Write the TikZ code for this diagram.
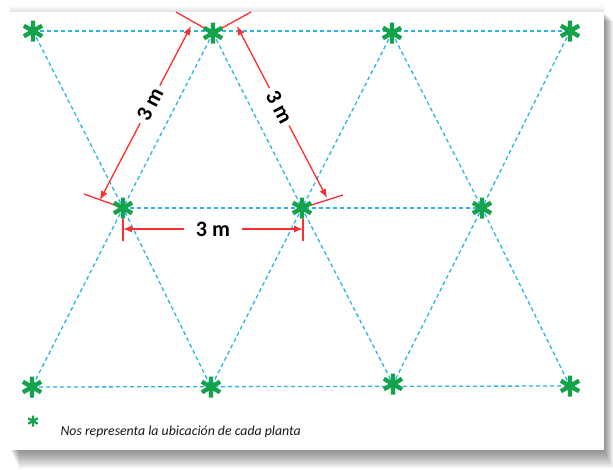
\documentclass[tikz,border=0pt]{standalone}
\usepackage{fontspec}
\setmainfont{Carlito}
\usetikzlibrary{arrows.meta,calc}
\definecolor{plantgreen}{HTML}{14A34A}
\definecolor{gridblue}{HTML}{2AB5EA}
\definecolor{dimred}{HTML}{FF2E2E}
\pgfdeclarelayer{frame}
\pgfdeclarelayer{lines}
\pgfsetlayers{frame,lines,main}
\tikzset{
  plantarm/.style={draw=plantgreen, line width=4.4pt},
  plant/.style={shape=rectangle, inner sep=0pt, minimum size=24pt,
    path picture={
      \draw[plantarm]
        (path picture bounding box.center) ++(90:10.5pt) -- ++(-90:21pt)
        (path picture bounding box.center) ++(30:10.5pt) -- ++(210:21pt)
        (path picture bounding box.center) ++(150:10.5pt) -- ++(-30:21pt);
    }},
  plantsmall/.style={shape=rectangle, inner sep=0pt, minimum size=12pt,
    path picture={
      \draw[draw=plantgreen, line width=2.2pt]
        (path picture bounding box.center) ++(90:5.5pt) -- ++(-90:11pt)
        (path picture bounding box.center) ++(30:5.5pt) -- ++(210:11pt)
        (path picture bounding box.center) ++(150:5.5pt) -- ++(-30:11pt);
    }},
  gridline/.style={draw=gridblue, line width=1.3pt, dash pattern=on 4pt off 3pt},
  dimline/.style={draw=dimred, line width=1.3pt},
  dimtip/.style={{Latex[length=9pt,width=7pt]}-{Latex[length=9pt,width=7pt]}},
  dimlabel/.style={fill=white, inner xsep=4pt, inner ysep=1pt,
    font=\fontsize{22}{24}\selectfont\bfseries, text=black},
  legendtext/.style={anchor=west, font=\fontsize{13.8}{15}\selectfont\itshape, text=black!90}
}
\begin{document}
\begin{tikzpicture}[x=1pt,y=-1pt]
\useasboundingbox (0,0) rectangle (613,469);
\begin{pgfonlayer}{frame}
  \fill[white] (0,0) rectangle (613,469);
  \foreach \s in {2,4,...,18} {
    \fill[black,opacity=0.055] (10+\s/2,12+\s/2) rectangle (604+\s/2,450+\s);
  }
  \shade[top color=white, bottom color=black!12] (10,5) rectangle (604,12);
  \fill[white] (10,12) rectangle (604,450);
\end{pgfonlayer}

% plants
\node[plant] (t1) at (33,31) {};
\node[plant] (t2) at (213,33) {};
\node[plant] (t3) at (392,33) {};
\node[plant] (t4) at (570,31) {};
\node[plant] (m1) at (123,208) {};
\node[plant] (m2) at (302,208) {};
\node[plant] (m3) at (482,208) {};
\node[plant] (b1) at (32,387) {};
\node[plant] (b2) at (211,387) {};
\node[plant] (b3) at (393,384) {};
\node[plant] (b4) at (570,386) {};

% dimension coordinates
\coordinate (le1) at (84,194);
\coordinate (le2) at (176,12);
\coordinate (la) at (100,200);
\coordinate (lb) at (191,26);
\coordinate (re1) at (251,12);
\coordinate (re2) at (343,195);
\coordinate (ra) at (237,26);
\coordinate (rb) at (327,198);
\coordinate (h1a) at (123,219);
\coordinate (h1b) at (123,241);
\coordinate (h2a) at (303,219);
\coordinate (h2b) at (303,241);
\coordinate (ha) at (123,229);
\coordinate (hb) at (303,229);

\begin{pgfonlayer}{lines}
  \draw[gridline] (t1.center) -- (t4.center);
  \draw[gridline] (m1.center) -- (m3.center);
  \draw[gridline] (b1.center) -- (b4.center);
  \draw[gridline] (t1.center) -- (m1.center) -- (b2.center);
  \draw[gridline] (t2.center) -- (m1.center) -- (b1.center);
  \draw[gridline] (t2.center) -- (m2.center) -- (b3.center);
  \draw[gridline] (t3.center) -- (m2.center) -- (b2.center);
  \draw[gridline] (t3.center) -- (m3.center) -- (b4.center);
  \draw[gridline] (t4.center) -- (m3.center) -- (b3.center);
  % extension lines
  \draw[dimline] (m1.center) -- (le1);
  \draw[dimline] (t2.center) -- (le2);
  \draw[dimline] (t2.center) -- (re1);
  \draw[dimline] (m2.center) -- (re2);
  \draw[dimline] (h1a) -- (h1b);
  \draw[dimline] (h2a) -- (h2b);
\end{pgfonlayer}

% dimension arrows
\draw[dimline, dimtip] (la) -- node[dimlabel, sloped, pos=0.55] {3 m} (lb);
\draw[dimline, dimtip] (ra) -- node[dimlabel, sloped, pos=0.47] {3 m} (rb);
\draw[dimline, dimtip] (ha) -- node[dimlabel, inner xsep=12pt] {3 m} (hb);

% legend
\node[plantsmall] (leg) at (33,421) {};
\node[legendtext] (legtext) at (57,432) {Nos representa la ubicación de cada planta};
\end{tikzpicture}
\end{document}
